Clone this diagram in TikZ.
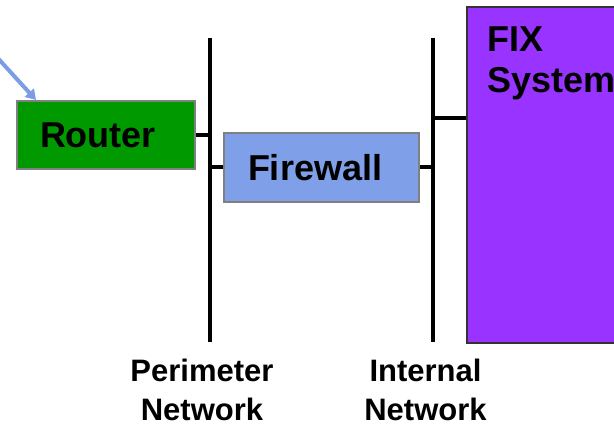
\documentclass[tikz,border=0pt]{standalone}
\usepackage{fontspec}
\setmainfont{Liberation Sans}
\usetikzlibrary{arrows.meta,calc}
\definecolor{routergreen}{HTML}{009900}
\definecolor{fwblue}{HTML}{7F9FE8}
\definecolor{fixpurple}{HTML}{9933FF}
\definecolor{boxedge}{HTML}{808080}
\definecolor{linkblue}{HTML}{7C9CE6}
\tikzset{
  devbox/.style={draw=boxedge, line width=2pt, rectangle, inner ysep=0pt,
    align=left, font=\fontsize{36}{41}\selectfont\bfseries},
  netline/.style={line width=3.5pt, black},
  netlink/.style={line width=4pt, black},
  netlabel/.style={align=center, inner sep=0pt, anchor=base,
    font=\fontsize{31}{39}\selectfont\bfseries}
}
\begin{document}
\begin{tikzpicture}[x=1pt,y=-1pt]
  \clip (0,0) rectangle (614,427);
  \fill[white] (0,0) rectangle (614,427);

  % network segments
  \coordinate (pt) at (210,38);
  \coordinate (pb) at (210,342);
  \coordinate (it) at (433,38);
  \coordinate (ib) at (433,342);
  \draw[netline] (pt) -- (pb);
  \draw[netline] (it) -- (ib);

  % devices
  \node[devbox, fill=routergreen, minimum height=68pt, text width=132pt,
        inner xsep=23pt] (router) at (106,135) {Router};
  \node[devbox, fill=fwblue, minimum height=69pt, text width=147pt,
        inner xsep=24pt] (firewall) at (321.5,167.5) {Firewall};
  \node[draw=black!80, line width=2pt, fill=fixpurple, rectangle,
        minimum width=200pt, minimum height=336pt, anchor=north west,
        inner sep=0pt] (fix) at (466,6) {};
  % base anchor of a two-line node sits on the last line
  \node[anchor=base west, align=left, inner sep=0pt,
        font=\fontsize{36}{41}\selectfont\bfseries] (fixlabel) at (487,93)
        {FIX\\System};

  % links to the segments
  \draw[netlink] (router.east) -- (router.east -| pt);
  \draw[netlink] (firewall.west) -- (firewall.west -| pt);
  \draw[netlink] (firewall.east) -- (firewall.east -| it);
  \coordinate (fixport) at ($(fix.north west)!0.331!(fix.south west)$);
  \draw[netlink] (fixport) -- (fixport -| it);

  % incoming traffic
  \coordinate (src) at (-6,54);
  \draw[linkblue, line width=4pt, -{Triangle[length=10pt,width=12pt]}]
    (src) -- ($(router.north west)+(20,0)$);

  % segment names
  \node[netlabel] (perim) at (202,421) {Perimeter\\Network};
  \node[netlabel] (inner) at (425.5,421) {Internal\\Network};
\end{tikzpicture}
\end{document}
